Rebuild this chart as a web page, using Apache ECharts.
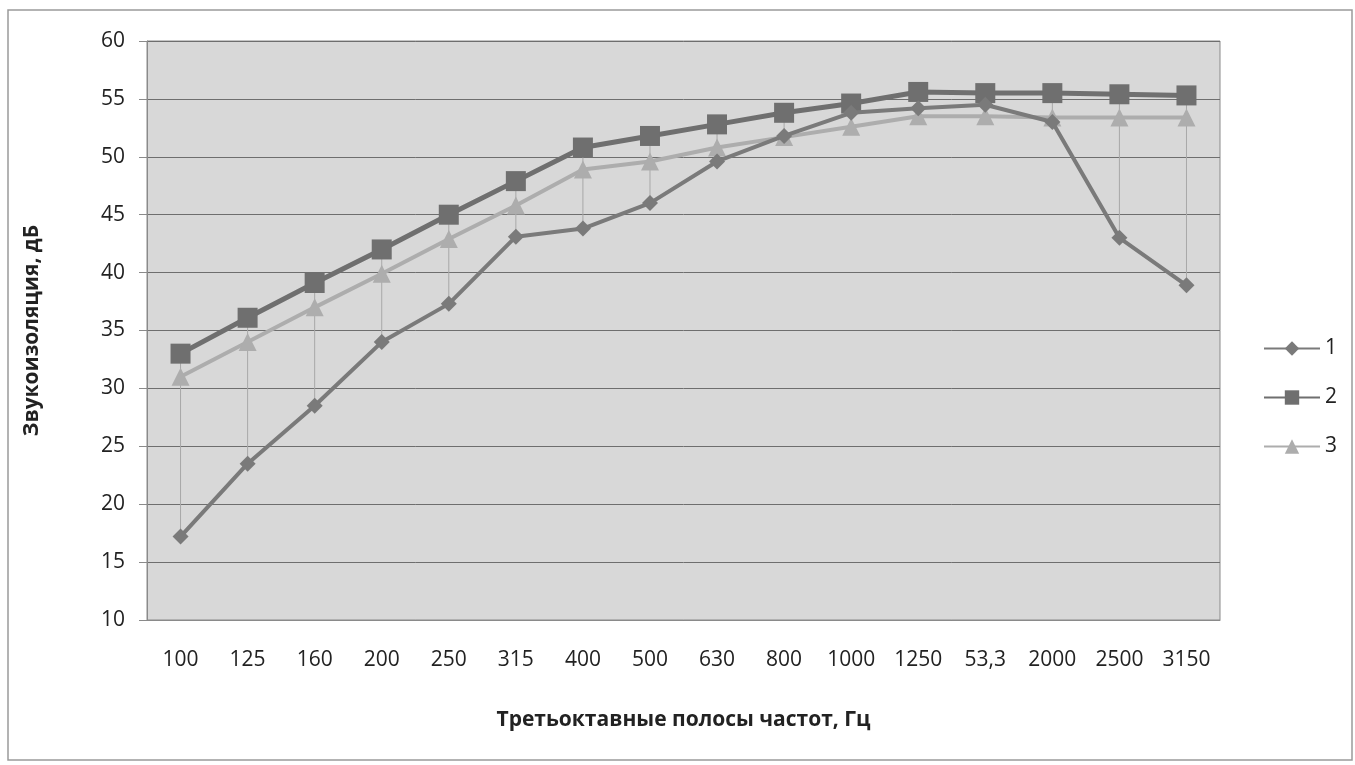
<!DOCTYPE html>
<html>
<head>
<meta charset="utf-8">
<script src="https://cdn.jsdelivr.net/npm/echarts@6/dist/echarts.min.js"></script>
<style>
  html, body { margin: 0; padding: 0; background: #fff; }
  #chart { width: 1355px; height: 765px; }
</style>
</head>
<body>
<div id="chart"></div>
<script>
const categories = ["100", "125", "160", "200", "250", "315", "400", "500", "630", "800", "1000", "1250", "53,3", "2000", "2500", "3150"];
const series1 = [17.2, 23.5, 28.5, 34.0, 37.3, 43.1, 43.8, 46.0, 49.6, 51.8, 53.8, 54.2, 54.5, 53.0, 43.0, 38.9];
const series2 = [33.0, 36.1, 39.1, 42.0, 45.0, 47.9, 50.8, 51.8, 52.8, 53.8, 54.6, 55.6, 55.5, 55.5, 55.4, 55.3];
const series3 = [31.0, 34.0, 37.0, 39.9, 42.9, 45.8, 48.9, 49.6, 50.8, 51.7, 52.6, 53.5, 53.5, 53.4, 53.4, 53.4];
const seriesNames = ["1", "2", "3"];
const yTicks = { min: 10, max: 60, interval: 5 };

const font = "'Open Sans', 'Noto Sans', sans-serif";

// high-low lines: min..max over the three series at every category
const highLow = categories.map((c, i) => {
  const v = [series1[i], series2[i], series3[i]];
  return [i, Math.min(...v), Math.max(...v)];
});

const mychart = echarts.init(document.getElementById("chart"));
const option = {
  backgroundColor: "#fff",
  animation: false,
  graphic: [
    {
      type: "rect",
      shape: { x: 8, y: 10, width: 1344, height: 750 },
      style: { fill: "none", stroke: "#9a9a9a", lineWidth: 1.5 },
      silent: true,
    },
  ],
  legend: {
    data: seriesNames,
    orient: "vertical",
    left: 1258,
    top: 333,
    itemWidth: 56,
    itemHeight: 18,
    itemGap: 28,
    textStyle: { fontFamily: font, fontSize: 21, color: "#222" },
  },
  grid: {
    left: 147,
    right: 135,
    top: 41,
    bottom: 145,
    show: true,
    backgroundColor: "#d8d8d8",
    borderColor: "#8a8a8a",
    borderWidth: 1,
  },
  xAxis: {
    type: "category",
    data: categories,
    boundaryGap: true,
    axisTick: { show: false },
    axisLine: { lineStyle: { color: "#8a8a8a" } },
    axisLabel: { fontFamily: font, fontSize: 21, color: "#222", margin: 30, interval: 0 },
    name: "Третьоктавные полосы частот, Гц",
    nameLocation: "middle",
    nameGap: 90,
    nameTextStyle: { fontFamily: font, fontSize: 21, fontWeight: "bold", color: "#222" },
  },
  yAxis: {
    type: "value",
    min: yTicks.min,
    max: yTicks.max,
    interval: yTicks.interval,
    axisLine: { show: true, lineStyle: { color: "#8a8a8a" } },
    axisTick: { show: true, length: 8, lineStyle: { color: "#8a8a8a" } },
    splitLine: { lineStyle: { color: "#6e6e6e", width: 1 } },
    axisLabel: { fontFamily: font, fontSize: 21, color: "#222", margin: 22 },
    name: "Звукоизоляция, дБ",
    nameLocation: "middle",
    nameRotate: 90,
    nameGap: 104,
    nameTextStyle: { fontFamily: font, fontSize: 21, fontWeight: "bold", color: "#222" },
  },
  series: [
    {
      type: "custom",
      silent: true,
      z: 1,
      data: highLow,
      renderItem: (params, api) => {
        const lo = api.coord([api.value(0), api.value(1)]);
        const hi = api.coord([api.value(0), api.value(2)]);
        return {
          type: "line",
          shape: { x1: lo[0], y1: lo[1], x2: hi[0], y2: hi[1] },
          style: { stroke: "#a8a8a8", lineWidth: 1 },
        };
      },
    },
    {
      name: seriesNames[0],
      type: "line",
      data: series1,
      z: 4,
      symbol: "diamond",
      symbolSize: 16,
      color: "#7a7a7a",
      lineStyle: { width: 4, color: "#7a7a7a" },
      itemStyle: { color: "#7a7a7a" },
    },
    {
      name: seriesNames[1],
      type: "line",
      data: series2,
      z: 3,
      symbol: "rect",
      symbolSize: 20,
      color: "#6f6f6f",
      lineStyle: { width: 5, color: "#6f6f6f" },
      itemStyle: { color: "#6f6f6f" },
    },
    {
      name: seriesNames[2],
      type: "line",
      data: series3,
      z: 2,
      symbol: "triangle",
      symbolSize: 18,
      color: "#adadad",
      lineStyle: { width: 4, color: "#adadad" },
      itemStyle: { color: "#adadad" },
    },
  ],
};
mychart.setOption(option);
</script>
</body>
</html>
